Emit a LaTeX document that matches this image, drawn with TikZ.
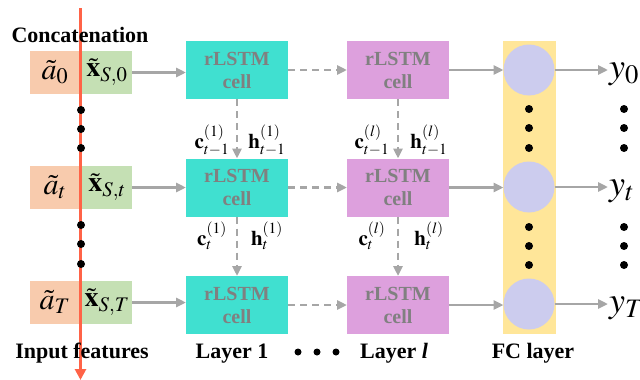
\documentclass[tikz,border=0pt]{standalone}
\usepackage{mathptmx}
\usepackage[no-math]{fontspec}
\setmainfont{Liberation Serif}
\usetikzlibrary{arrows.meta}
\definecolor{inorange}{HTML}{F8CBAD}
\definecolor{ingreen}{HTML}{C5E0B4}
\definecolor{cellcyan}{HTML}{40E0D0}
\definecolor{cellplum}{HTML}{DDA0DD}
\definecolor{fcyellow}{HTML}{FFE699}
\definecolor{fcblue}{HTML}{CCCCEE}
\definecolor{redline}{HTML}{FF6347}
\definecolor{arrgray}{HTML}{A6A6A6}
\definecolor{txtgray}{HTML}{808080}
\begin{document}
\begin{tikzpicture}[x=1pt,y=-1pt,
  abox/.style={fill=inorange, minimum width=51pt, minimum height=43pt, inner sep=0pt, outer sep=0pt},
  xbox/.style={fill=ingreen, minimum width=51pt, minimum height=43pt, inner sep=0pt, outer sep=0pt},
  cellA/.style={fill=cellcyan, minimum width=102pt, minimum height=58pt, inner sep=0pt, outer sep=0pt, align=center, text=txtgray, font=\fontsize{20}{23}\selectfont\bfseries},
  cellB/.style={cellA, fill=cellplum},
  neuron/.style={circle, fill=fcblue, minimum size=51pt, inner sep=0pt, outer sep=0pt},
  flow/.style={draw=arrgray, line width=2.5pt, -{Triangle[length=10pt,width=9pt]}},
  dflow/.style={flow, dash pattern=on 7pt off 5pt},
  bigdot/.style={circle, fill=black, minimum size=8pt, inner sep=0pt},
  smalldot/.style={circle, fill=black, minimum size=7pt, inner sep=0pt},
  albl/.style={inner sep=0pt, font=\fontsize{30}{34}\selectfont},
  xlbl/.style={inner sep=0pt, font=\fontsize{28}{32}\selectfont},
  ylbl/.style={inner sep=0pt, anchor=base west, font=\fontsize{36}{40}\selectfont},
  chlbl/.style={inner sep=0pt, anchor=base, font=\fontsize{21}{24}\selectfont},
  captxt/.style={anchor=base, inner sep=0pt, font=\fontsize{22}{26}\selectfont\bfseries},
  redarrow/.style={draw=redline, line width=3.5pt, -{Triangle[length=11pt,width=11pt]}}
]
\useasboundingbox (0,0) rectangle (640,380);

% input boxes
\node[abox] (a0) at (55.5,72.5) {};
\node[xbox] (g0) at (106.5,72.5) {};
\node[abox] (at) at (55.5,187.5) {};
\node[xbox] (gt) at (106.5,187.5) {};
\node[abox] (aT) at (55.5,302.5) {};
\node[xbox] (gT) at (106.5,302.5) {};

% FC layer
\node[fill=fcyellow, minimum width=53pt, minimum height=293pt, inner sep=0pt] (fc) at (529.5,187.5) {};
\node[neuron] (fc0) at (529,70) {};
\node[neuron] (fct) at (529,187) {};
\node[neuron] (fcT) at (529,304) {};

% cells
\node[cellA] (c10) at (237,70) {rLSTM\\cell};
\node[cellA] (c1t) at (237,187.5) {rLSTM\\cell};
\node[cellA] (c1T) at (237,305) {rLSTM\\cell};
\node[cellB] (cl0) at (398,70) {rLSTM\\cell};
\node[cellB] (clt) at (398,187.5) {rLSTM\\cell};
\node[cellB] (clT) at (398,305) {rLSTM\\cell};

% connectors
\draw[flow] (g0.east) -- (g0.east -| c10.west);
\draw[flow] (gt.east) -- (gt.east -| c1t.west);
\draw[flow] (gT.east) -- (gT.east -| c1T.west);
\draw[dflow] (c10.east) -- (cl0.west);
\draw[dflow] (c1t.east) -- (clt.west);
\draw[dflow] (c1T.east) -- (clT.west);
\draw[dflow] (c10.south) -- (c1t.north);
\draw[dflow] (c1t.south) -- (c1T.north);
\draw[dflow] (cl0.south) -- (clt.north);
\draw[dflow] (clt.south) -- (clT.north);
\draw[flow] (cl0.east) -- (fc0.west);
\draw[flow] (clt.east) -- (clt.east -| fct.west);
\draw[flow] (clT.east) -- (clT.east -| fcT.west);
\coordinate (yo0) at (608,70);
\coordinate (yot) at (608,187);
\coordinate (yoT) at (608,304);
\draw[flow] (fc0.east) -- (yo0);
\draw[flow] (fct.east) -- (yot);
\draw[flow] (fcT.east) -- (yoT);

% input labels
\node[albl] (la0) at (55,72) {$\tilde{a}_0$};
\node[xlbl] (lx0) at (107,72) {$\tilde{\mathbf{x}}_{S,0}$};
\node[albl] (lat) at (55,187) {$\tilde{a}_t$};
\node[xlbl] (lxt) at (107,187) {$\tilde{\mathbf{x}}_{S,t}$};
\node[albl] (laT) at (55,302) {$\tilde{a}_T$};
\node[xlbl] (lxT) at (107,302) {$\tilde{\mathbf{x}}_{S,T}$};

% red concatenation line
\coordinate (rtop) at (80.5,8);
\coordinate (rbot) at (80.5,380);
\draw[redarrow] (rtop) -- (rbot);
\foreach \yy/\nm in {110/r1,129/r2,148/r3,225/r4,244/r5,264/r6}
  \node[bigdot] (\nm) at (81,\yy) {};

% FC and output dots
\foreach \yy/\nm in {109/f1,128/f2,148/f3,227/f4,246/f5,265/f6}
  \node[bigdot] (\nm) at (529,\yy) {};
\foreach \yy/\nm in {109/o1,128/o2,148/o3,227/o4,246/o5,265/o6}
  \node[bigdot] (\nm) at (624,\yy) {};

% outputs
\node[ylbl] (y0) at (609,78) {$y_0$};
\node[ylbl] (yt) at (609,195) {$y_t$};
\node[ylbl] (yT) at (609,312) {$y_T$};

% state labels
\node[chlbl] (lc0) at (212,148) {$\mathbf{c}_{t-1}^{(1)}$};
\node[chlbl] (lh0) at (267,148) {$\mathbf{h}_{t-1}^{(1)}$};
\node[chlbl] (lc1) at (212,245) {$\mathbf{c}_{t}^{(1)}$};
\node[chlbl] (lh1) at (267,245) {$\mathbf{h}_{t}^{(1)}$};
\node[chlbl] (mc0) at (372,148) {$\mathbf{c}_{t-1}^{(l)}$};
\node[chlbl] (mh0) at (429,148) {$\mathbf{h}_{t-1}^{(l)}$};
\node[chlbl] (mc1) at (372,245) {$\mathbf{c}_{t}^{(l)}$};
\node[chlbl] (mh1) at (429,245) {$\mathbf{h}_{t}^{(l)}$};

% captions
\node[captxt] (concat) at (80,42) {Concatenation};
\node[captxt] (inlbl) at (82,358) {Input features};
\node[captxt] (lay1) at (232,358) {Layer 1};
\node[captxt] (layl) at (394,358) {Layer \textit{l}};
\node[captxt] (fclbl) at (533,358) {FC layer};
\node[smalldot] (b1) at (298,352) {};
\node[smalldot] (b2) at (317,352) {};
\node[smalldot] (b3) at (336,352) {};
\end{tikzpicture}
\end{document}
